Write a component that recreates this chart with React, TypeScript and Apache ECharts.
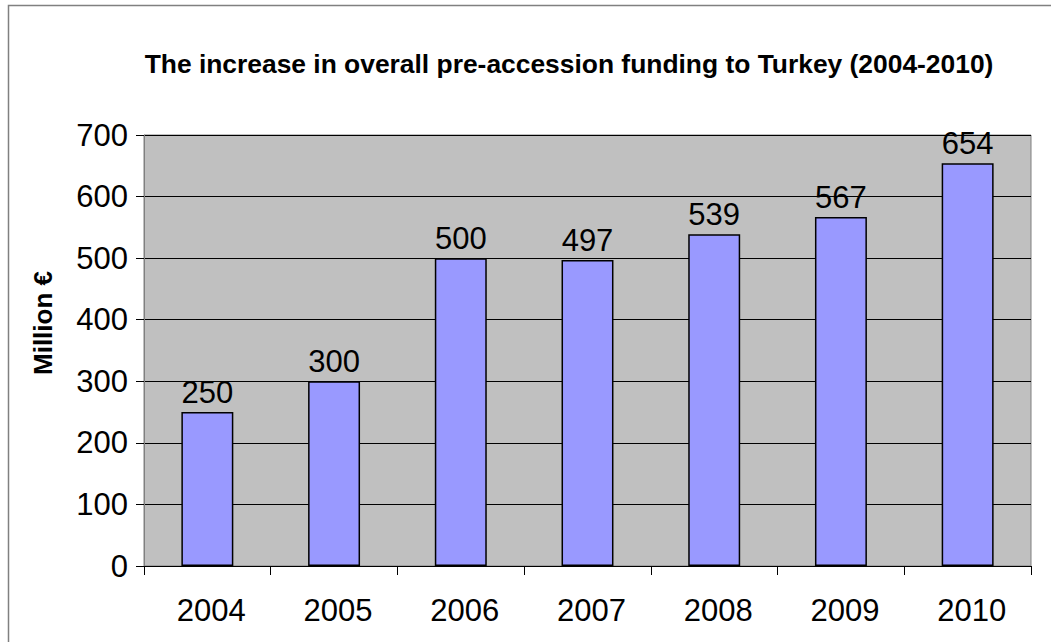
import React, { useEffect, useRef } from "react";
import * as echarts from "echarts";

const categories = ["2004", "2005", "2006", "2007", "2008", "2009", "2010"];
const values = [250, 300, 500, 497, 539, 567, 654];
const yTicks = [0, 100, 200, 300, 400, 500, 600, 700];
const titleText = "The increase in overall pre-accession funding to Turkey (2004-2010)";
const yAxisTitle = "Million €";

const FONT = "'Liberation Sans', Arial, sans-serif";

export default function App() {
  const ref = useRef<HTMLDivElement>(null);
  useEffect(() => {
    if (!ref.current) return;
    const chart = echarts.init(ref.current, null, { renderer: "svg" });
    chart.setOption({
      animation: false,
      backgroundColor: "#ffffff",
      textStyle: { fontFamily: FONT },
      graphic: [
        {
          type: "rect",
          shape: { x: 8.5, y: 5.5, width: 1100, height: 700 },
          style: { fill: "none", stroke: "#808080", lineWidth: 1.5 },
          silent: true,
          z: -1,
        },
        {
          type: "text",
          x: 569,
          y: 64,
          style: {
            text: titleText,
            font: `bold 26.4px ${FONT}`,
            fill: "#000",
            textAlign: "center",
            textVerticalAlign: "middle",
          },
        },
        {
          type: "text",
          x: 43,
          y: 323,
          rotation: Math.PI / 2,
          style: {
            text: yAxisTitle,
            font: `bold 26px ${FONT}`,
            fill: "#000",
            textAlign: "center",
            textVerticalAlign: "middle",
          },
        },
      ],
      grid: {
        left: 144,
        right: 20,
        top: 135,
        bottom: 76,
        show: true,
        backgroundColor: "#C0C0C0",
        borderColor: "#808080",
        borderWidth: 1,
      },
      xAxis: {
        type: "category",
        data: categories,
        axisLine: { show: true, lineStyle: { color: "#000", width: 1 } },
        axisTick: { show: true, length: 9, lineStyle: { color: "#000" }, alignWithLabel: false },
        axisLabel: { fontSize: 31, color: "#000", margin: 29, fontFamily: FONT, padding: [0, 0, 0, 8] },
      },
      yAxis: {
        type: "value",
        min: yTicks[0],
        max: yTicks[yTicks.length - 1],
        interval: 100,
        axisLine: { show: true, lineStyle: { color: "#808080", width: 1 } },
        axisTick: { show: true, length: 8, lineStyle: { color: "#000" } },
        axisLabel: { fontSize: 31, color: "#000", margin: 16, fontFamily: FONT },
        splitLine: { show: true, lineStyle: { color: "#000", width: 1 } },
      },
      series: [
        {
          type: "bar",
          data: values,
          barWidth: "41%",
          itemStyle: { color: "#9999FF", borderColor: "#000", borderWidth: 1.5 },
          label: {
            show: true,
            position: "top",
            distance: 4,
            fontSize: 31,
            color: "#000",
            fontFamily: FONT,
          },
        },
      ],
    });
    return () => chart.dispose();
  }, []);
  return (
    <div
      ref={ref}
      style={{ position: "fixed", left: 0, top: 0, width: 1051, height: 642 }}
    />
  );
}
